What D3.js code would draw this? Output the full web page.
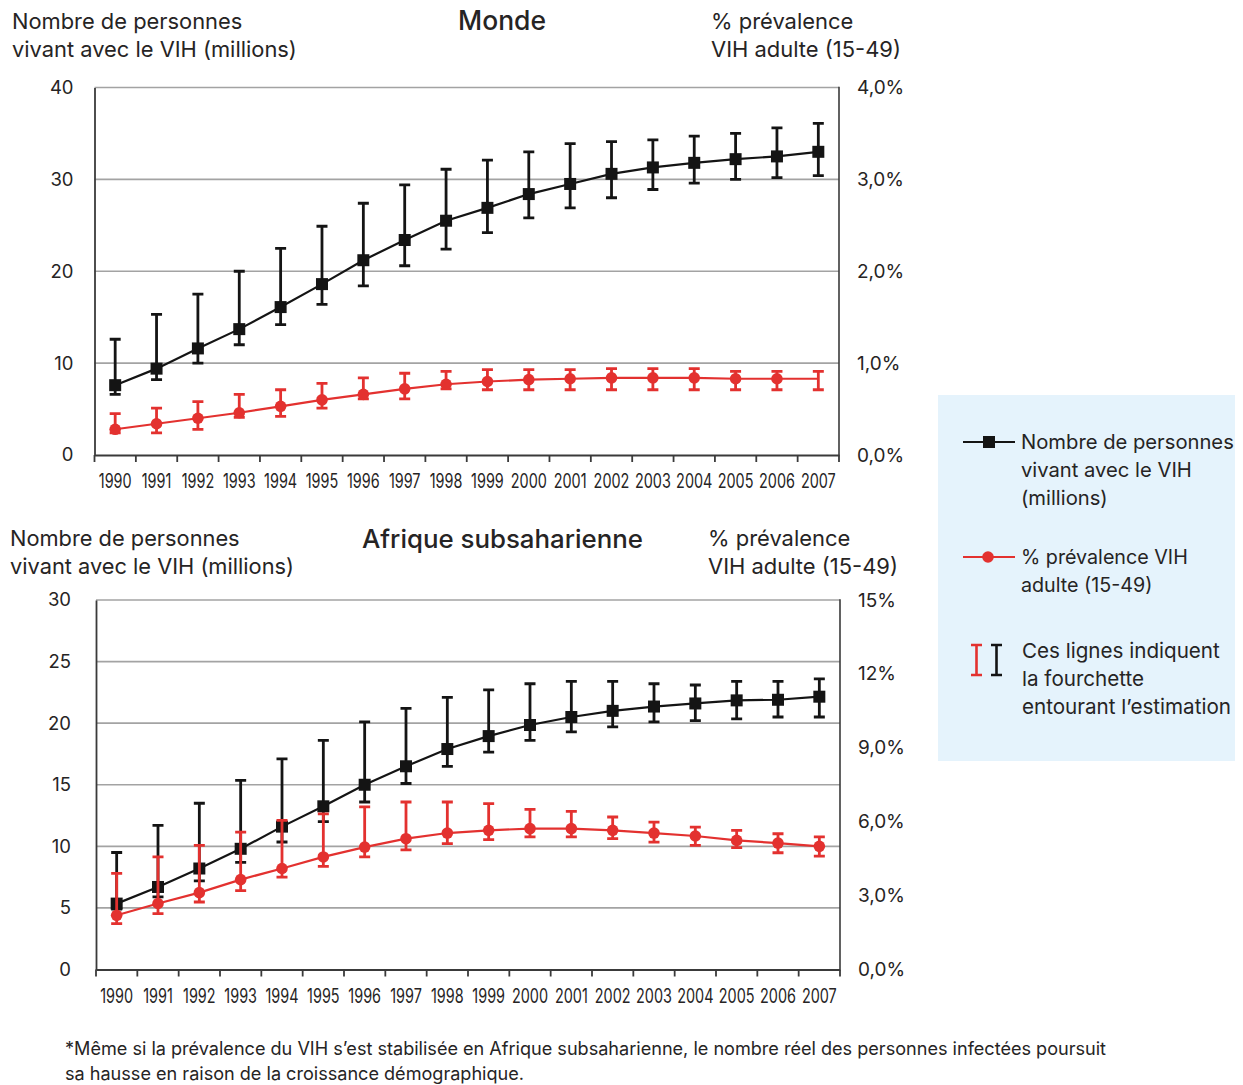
<!DOCTYPE html>
<html><head><meta charset="utf-8">
<script src="https://cdn.jsdelivr.net/npm/d3@7"></script>
<style>
html,body{margin:0;padding:0;background:#fff;}
svg{display:block;}
text{font-family:Inter,"Open Sans",sans-serif;fill:#262424;}
</style></head><body>
<svg id="chart" width="1243" height="1085"></svg>
<script>
// ---------------- DATA ----------------
const years = ["1990","1991","1992","1993","1994","1995","1996","1997","1998","1999","2000","2001","2002","2003","2004","2005","2006","2007"];

// Monde — people living with HIV (millions)
const mondeCount     = [7.6, 9.4, 11.6, 13.7, 16.1, 18.6, 21.2, 23.4, 25.5, 26.9, 28.4, 29.5, 30.6, 31.3, 31.8, 32.2, 32.5, 33.0];
const mondeCountLow  = [6.6, 8.2, 10.0, 12.0, 14.2, 16.4, 18.4, 20.6, 22.4, 24.2, 25.8, 26.9, 28.0, 28.9, 29.6, 30.0, 30.2, 30.4];
const mondeCountHigh = [12.6, 15.3, 17.5, 20.0, 22.5, 24.9, 27.4, 29.4, 31.1, 32.1, 33.0, 33.9, 34.1, 34.3, 34.7, 35.0, 35.6, 36.1];
// Monde — adult prevalence (%)
const mondePrev      = [0.28, 0.34, 0.40, 0.46, 0.53, 0.60, 0.66, 0.72, 0.77, 0.80, 0.82, 0.83, 0.84, 0.84, 0.84, 0.83, 0.83, 0.83];
const mondePrevLow   = [0.24, 0.24, 0.28, 0.41, 0.42, 0.51, 0.61, 0.61, 0.72, 0.71, 0.71, 0.71, 0.71, 0.71, 0.71, 0.71, 0.71, 0.71];
const mondePrevHigh  = [0.45, 0.51, 0.58, 0.66, 0.71, 0.78, 0.84, 0.89, 0.91, 0.93, 0.93, 0.93, 0.94, 0.94, 0.94, 0.91, 0.91, 0.91];

// Afrique subsaharienne — people living with HIV (millions)
const afCount     = [5.35, 6.7, 8.2, 9.8, 11.6, 13.25, 15.0, 16.5, 17.9, 18.95, 19.85, 20.5, 21.0, 21.35, 21.6, 21.85, 21.9, 22.15];
const afCountLow  = [4.9, 5.9, 7.2, 8.7, 10.35, 12.0, 13.6, 15.1, 16.5, 17.65, 18.6, 19.3, 19.7, 20.1, 20.2, 20.35, 20.5, 20.5];
const afCountHigh = [9.5, 11.7, 13.5, 15.35, 17.1, 18.6, 20.1, 21.2, 22.1, 22.7, 23.2, 23.4, 23.4, 23.2, 23.1, 23.4, 23.4, 23.6];
// Afrique subsaharienne — adult prevalence (%)
const afPrev      = [2.2, 2.68, 3.12, 3.65, 4.1, 4.57, 4.97, 5.31, 5.54, 5.65, 5.72, 5.72, 5.65, 5.54, 5.42, 5.24, 5.13, 5.0];
const afPrevLow   = [1.86, 2.27, 2.74, 3.2, 3.75, 4.19, 4.57, 4.86, 5.11, 5.27, 5.38, 5.38, 5.31, 5.17, 5.04, 4.95, 4.74, 4.6];
const afPrevHigh  = [3.9, 4.57, 5.04, 5.58, 6.05, 6.32, 6.6, 6.8, 6.8, 6.73, 6.5, 6.42, 6.19, 5.98, 5.78, 5.65, 5.51, 5.38];

// Tick values / labels
const mondeLeftTicks  = [0, 10, 20, 30, 40];
const mondeRightTicks = [0, 1, 2, 3, 4];
const mondeRightLabels = ["0,0%", "1,0%", "2,0%", "3,0%", "4,0%"];
const afLeftTicks  = [0, 5, 10, 15, 20, 25, 30];
const afRightTicks = [0, 3, 6, 9, 12, 15];
const afRightLabels = ["0,0%", "3,0%", "6,0%", "9,0%", "12%", "15%"];

// Texts
const titleMonde = "Monde";
const titleAfrique = "Afrique subsaharienne";
const leftAxisTitle = ["Nombre de personnes", "vivant avec le VIH (millions)"];
const rightAxisTitle = ["% prévalence", "VIH adulte (15-49)"];
const legendCount = ["Nombre de personnes", "vivant avec le VIH", "(millions)"];
const legendPrev = ["% prévalence VIH", "adulte (15-49)"];
const legendRange = ["Ces lignes indiquent", "la fourchette", "entourant l\u2019estimation"];
const footnote = ["*Même si la prévalence du VIH s\u2019est stabilisée en Afrique subsaharienne, le nombre réel des personnes infectées poursuit",
                  "sa hausse en raison de la croissance démographique."];

// ---------------- DRAWING ----------------
const BLACK = "#141414", RED = "#e3312f", GRID = "#a3a3a3", AXIS = "#3a3a3a";
const FONT = 'Inter,"Open Sans",sans-serif';
const svg = d3.select("#chart");

// multi-line text block as one <text> with <tspan>s; font size fitted so that line `ref` spans `width`
function textBlock(lines, x, y0, lh, fs, anchor, ref, width, weight) {
  const t = svg.append("text").attr("font-size", fs).attr("text-anchor", anchor || "start")
    .attr("font-weight", weight || 400);
  const ts = t.selectAll("tspan").data(lines).join("tspan")
    .attr("x", x).attr("y", (d, i) => y0 + i * lh).text(d => d);
  if (width) {
    const w = ts.nodes()[ref].getComputedTextLength();
    t.attr("font-size", (fs * width / w).toFixed(2));
  }
  return t;
}

function drawPanel(cfg) {
  const g = svg.append("g");
  const x = d3.scaleBand().domain(years).range([cfg.left, cfg.right]);
  const yL = d3.scaleLinear().domain(cfg.leftDomain).range([cfg.bottom, cfg.top]);
  const yR = d3.scaleLinear().domain(cfg.rightDomain).range([cfg.bottom, cfg.top]);
  const cx = d => x(d) + x.bandwidth() / 2;

  // gridlines (left ticks)
  g.append("g").selectAll("line").data(cfg.leftTicks.filter(v => v > cfg.leftDomain[0])).join("line")
    .attr("x1", cfg.left).attr("x2", cfg.right)
    .attr("y1", d => yL(d)).attr("y2", d => yL(d))
    .attr("stroke", GRID).attr("stroke-width", 1.6);

  // right border
  g.append("line").attr("x1", cfg.right).attr("x2", cfg.right).attr("y1", cfg.top - 0.8).attr("y2", cfg.bottom)
    .attr("stroke", AXIS).attr("stroke-width", 1.6);

  // left axis
  const la = g.append("g").attr("transform", `translate(${cfg.left},0)`)
    .call(d3.axisLeft(yL).tickValues(cfg.leftTicks).tickSize(0).tickPadding(cfg.leftPad));
  la.select(".domain").attr("stroke", AXIS).attr("stroke-width", 1.8);
  la.selectAll("text").attr("font-size", 18.5).attr("fill", "#262424").attr("font-family", FONT);

  // right axis labels
  const ra = g.append("g").attr("transform", `translate(${cfg.right},0)`)
    .call(d3.axisRight(yR).tickValues(cfg.rightTicks).tickSize(0).tickPadding(cfg.rightPad)
      .tickFormat((d, i) => cfg.rightLabels[i]));
  ra.select(".domain").remove();
  ra.selectAll("text").attr("font-size", 19).attr("fill", "#262424").attr("font-family", FONT);

  // bottom axis: labels at band centers, horizontally condensed
  const ba = g.append("g").attr("transform", `translate(0,${cfg.bottom})`)
    .call(d3.axisBottom(x).tickSize(0).tickPadding(19.5));
  ba.select(".domain").attr("stroke", AXIS).attr("stroke-width", 1.8);
  ba.selectAll("text").attr("font-size", 19.5).attr("fill", "#262424").attr("font-family", FONT)
    .attr("transform", "scale(0.74,1)");
  // tick marks at band boundaries
  const bounds = years.map(d => x(d)).concat([cfg.right]);
  g.append("g").selectAll("line").data(bounds).join("line")
    .attr("x1", d => d).attr("x2", d => d)
    .attr("y1", cfg.bottom).attr("y2", cfg.bottom + 7)
    .attr("stroke", AXIS).attr("stroke-width", 1.8);

  // series
  function series(vals, lo, hi, yS, color, marker, skipLastMarker) {
    const sg = g.append("g");
    const idx = d3.range(years.length);
    sg.append("path").datum(idx)
      .attr("d", d3.line().x(i => cx(years[i])).y(i => yS(vals[i])))
      .attr("fill", "none").attr("stroke", color).attr("stroke-width", 2.2);
    const eb = sg.append("g").attr("stroke", color).attr("stroke-width", 2.8).attr("fill", "none");
    eb.selectAll("path").data(idx).join("path")
      .attr("d", i => {
        const xc = cx(years[i]), y1 = yS(hi[i]), y2 = yS(lo[i]);
        return `M${xc - 5.5},${y1}H${xc + 5.5}M${xc},${y1}V${y2}M${xc - 5.5},${y2}H${xc + 5.5}`;
      });
    const mIdx = skipLastMarker ? idx.slice(0, -1) : idx;
    if (marker === "square") {
      sg.selectAll("rect").data(mIdx).join("rect")
        .attr("x", i => cx(years[i]) - 6).attr("y", i => yS(vals[i]) - 6)
        .attr("width", 12).attr("height", 12).attr("fill", color);
    } else {
      sg.selectAll("circle").data(mIdx).join("circle")
        .attr("cx", i => cx(years[i])).attr("cy", i => yS(vals[i]))
        .attr("r", 5.8).attr("fill", color);
    }
  }
  series(cfg.count, cfg.countLow, cfg.countHigh, yL, BLACK, "square", false);
  series(cfg.prev, cfg.prevLow, cfg.prevHigh, yR, RED, "circle", cfg.skipLastPrevMarker);
}

drawPanel({
  left: 94.5, right: 839, top: 87.5, bottom: 455,
  leftDomain: [0, 40], rightDomain: [0, 4],
  leftTicks: mondeLeftTicks, rightTicks: mondeRightTicks, rightLabels: mondeRightLabels,
  leftPad: 21, rightPad: 18,
  count: mondeCount, countLow: mondeCountLow, countHigh: mondeCountHigh,
  prev: mondePrev, prevLow: mondePrevLow, prevHigh: mondePrevHigh,
  skipLastPrevMarker: true
});
drawPanel({
  left: 96, right: 840, top: 600, bottom: 969.5,
  leftDomain: [0, 30], rightDomain: [0, 15],
  leftTicks: afLeftTicks, rightTicks: afRightTicks, rightLabels: afRightLabels,
  leftPad: 25, rightPad: 18,
  count: afCount, countLow: afCountLow, countHigh: afCountHigh,
  prev: afPrev, prevLow: afPrevLow, prevHigh: afPrevHigh,
  skipLastPrevMarker: false
});

// ---- titles and axis titles ----
textBlock([titleMonde], 502, 30, 0, 26, "middle", 0, 88, 500);
textBlock([titleAfrique], 502.5, 548, 0, 26, "middle", 0, 281, 500);
textBlock(leftAxisTitle, 12, 29, 27.5, 21, "start", 1, 285);
textBlock(rightAxisTitle, 711, 29, 27.5, 21, "start", 1, 190);
textBlock(leftAxisTitle, 10, 546, 28, 21, "start", 1, 284);
textBlock(rightAxisTitle, 708, 546, 28, 21, "start", 1, 190);

// ---- legend ----
const lg = svg.append("g");
lg.append("rect").attr("x", 938).attr("y", 395).attr("width", 297).attr("height", 366).attr("fill", "#e5f3fc");
lg.append("line").attr("x1", 963).attr("x2", 1015).attr("y1", 442).attr("y2", 442).attr("stroke", BLACK).attr("stroke-width", 2.2);
lg.append("rect").attr("x", 983).attr("y", 436).attr("width", 12).attr("height", 12).attr("fill", BLACK);
lg.append("line").attr("x1", 963).attr("x2", 1015).attr("y1", 557).attr("y2", 557).attr("stroke", RED).attr("stroke-width", 2.2);
lg.append("circle").attr("cx", 988).attr("cy", 557).attr("r", 5.8).attr("fill", RED);
[[976.5, RED], [996.5, BLACK]].forEach(([xc, c]) => {
  lg.append("path").attr("d", `M${xc - 5.5},645H${xc + 5.5}M${xc},645V675M${xc - 5.5},675H${xc + 5.5}`)
    .attr("stroke", c).attr("stroke-width", 2.6).attr("fill", "none");
});
textBlock(legendCount, 1021, 449, 28, 20, "start", 0, 213);
textBlock(legendPrev, 1021, 564, 28, 20, "start", 0, 167);
textBlock(legendRange, 1022, 658, 28, 20, "start", 2, 209);

// ---- footnote ----
textBlock(footnote, 65, 1055, 25, 17, "start", 0, 1042);
</script>
</body></html>
